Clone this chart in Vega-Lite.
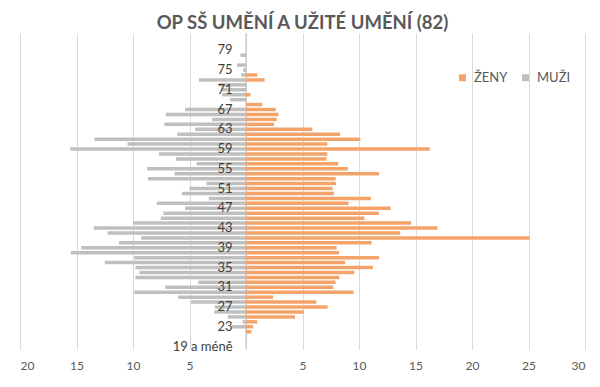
{
  "$schema": "https://vega.github.io/schema/vega-lite/v6.json",
  "width": 565,
  "height": 316,
  "autosize": {"type": "none"},
  "padding": {"left": 20, "top": 33, "right": 15, "bottom": 38},
  "background": "white",
  "config": {"font": "Lato", "view": {"stroke": null}},
  "title": {"text": "OP SŠ UMĚNÍ A UŽITÉ UMĚNÍ (82)", "font": "Lato", "fontSize": 18.5, "fontWeight": "bold", "color": "#595959", "anchor": "middle", "offset": 0},
  "data": {"values": [
    {"vek": "82", "muzi": 0, "zeny": 0},
    {"vek": "81", "muzi": 0, "zeny": 0},
    {"vek": "80", "muzi": 0, "zeny": 0},
    {"vek": "79", "muzi": 0, "zeny": 0},
    {"vek": "78", "muzi": -0.5, "zeny": 0},
    {"vek": "77", "muzi": 0, "zeny": 0},
    {"vek": "76", "muzi": -0.8, "zeny": 0},
    {"vek": "75", "muzi": -0.25, "zeny": 0},
    {"vek": "74", "muzi": -0.42, "zeny": 0.99},
    {"vek": "73", "muzi": -4.16, "zeny": 1.65},
    {"vek": "72", "muzi": -2.4, "zeny": 0},
    {"vek": "71", "muzi": -2.2, "zeny": 0},
    {"vek": "70", "muzi": -2.1, "zeny": 0.4},
    {"vek": "69", "muzi": -1.4, "zeny": 0},
    {"vek": "68", "muzi": 0, "zeny": 1.44},
    {"vek": "67", "muzi": -5.39, "zeny": 2.63},
    {"vek": "66", "muzi": -7.1, "zeny": 2.87},
    {"vek": "65", "muzi": -2.99, "zeny": 2.72},
    {"vek": "64", "muzi": -7.22, "zeny": 2.49},
    {"vek": "63", "muzi": -4.49, "zeny": 5.87},
    {"vek": "62", "muzi": -6.08, "zeny": 8.32},
    {"vek": "61", "muzi": -13.41, "zeny": 10.12},
    {"vek": "60", "muzi": -10.48, "zeny": 7.19},
    {"vek": "59", "muzi": -15.54, "zeny": 16.26},
    {"vek": "58", "muzi": -7.69, "zeny": 7.19},
    {"vek": "57", "muzi": -6.2, "zeny": 7.13},
    {"vek": "56", "muzi": -4.37, "zeny": 8.17},
    {"vek": "55", "muzi": -8.74, "zeny": 9.01},
    {"vek": "54", "muzi": -6.32, "zeny": 11.77},
    {"vek": "53", "muzi": -8.68, "zeny": 7.93},
    {"vek": "52", "muzi": -3.5, "zeny": 7.96},
    {"vek": "51", "muzi": -5.0, "zeny": 7.66},
    {"vek": "50", "muzi": -5.66, "zeny": 7.78},
    {"vek": "49", "muzi": -3.29, "zeny": 11.05},
    {"vek": "48", "muzi": -7.9, "zeny": 9.07},
    {"vek": "47", "muzi": -5.39, "zeny": 12.81},
    {"vek": "46", "muzi": -7.31, "zeny": 11.77},
    {"vek": "45", "muzi": -7.54, "zeny": 10.48},
    {"vek": "44", "muzi": -10.0, "zeny": 14.61},
    {"vek": "43", "muzi": -13.47, "zeny": 16.95},
    {"vek": "42", "muzi": -12.25, "zeny": 13.65},
    {"vek": "41", "muzi": -9.28, "zeny": 25.09},
    {"vek": "40", "muzi": -11.23, "zeny": 11.11},
    {"vek": "39", "muzi": -14.58, "zeny": 8.02},
    {"vek": "38", "muzi": -15.5, "zeny": 8.23},
    {"vek": "37", "muzi": -9.88, "zeny": 11.77},
    {"vek": "36", "muzi": -12.49, "zeny": 8.77},
    {"vek": "35", "muzi": -9.79, "zeny": 11.23},
    {"vek": "34", "muzi": -9.43, "zeny": 9.58},
    {"vek": "33", "muzi": -9.79, "zeny": 8.26},
    {"vek": "32", "muzi": -4.22, "zeny": 7.93},
    {"vek": "31", "muzi": -7.16, "zeny": 7.72},
    {"vek": "30", "muzi": -9.88, "zeny": 9.52},
    {"vek": "29", "muzi": -5.99, "zeny": 2.4},
    {"vek": "28", "muzi": -4.85, "zeny": 6.23},
    {"vek": "27", "muzi": -2.75, "zeny": 7.22},
    {"vek": "26", "muzi": -2.81, "zeny": 5.12},
    {"vek": "25", "muzi": -1.62, "zeny": 4.34},
    {"vek": "24", "muzi": -0.3, "zeny": 0.99},
    {"vek": "23", "muzi": -1.26, "zeny": 0.63},
    {"vek": "22", "muzi": 0, "zeny": 0.48},
    {"vek": "21", "muzi": 0, "zeny": 0},
    {"vek": "20", "muzi": 0, "zeny": 0},
    {"vek": "19 a méně", "muzi": 0, "zeny": 0}
  ]},
  "layer": [
    {
      "data": {"values": [{}]},
      "mark": {"type": "rule", "color": "#BFBFBF", "strokeWidth": 1},
      "encoding": {"x": {"datum": 0, "type": "quantitative"}}
    },
    {
      "transform": [{"fold": ["zeny", "muzi"], "as": ["pohlavi", "hodnota"]}],
      "mark": {"type": "bar"},
      "encoding": {
        "y": {
          "field": "vek", "type": "nominal", "sort": null,
          "scale": {"paddingInner": 0.3, "paddingOuter": 0.15},
          "axis": {
            "orient": "left", "offset": -226, "domain": false, "ticks": false, "grid": false,
            "labelPadding": 14, "labelFontSize": 13, "labelColor": "#404040", "title": null, "zindex": 1,
            "values": ["19 a méně", "23", "27", "31", "35", "39", "43", "47", "51", "55", "59", "63", "67", "71", "75", "79"]
          }
        },
        "x": {
          "field": "hodnota", "type": "quantitative",
          "scale": {"domain": [-20, 30], "nice": false, "zero": false},
          "axis": {
            "values": [-20, -15, -10, -5, 0, 5, 10, 15, 20, 25, 30],
            "labelExpr": "datum.value == 0 ? '' : abs(datum.value)",
            "grid": true, "gridColor": "#D9D9D9", "domain": false, "ticks": false,
            "labelPadding": 11, "labelFontSize": 12, "labelColor": "#595959", "title": null
          }
        },
        "color": {
          "field": "pohlavi", "type": "nominal",
          "scale": {"domain": ["zeny", "muzi"], "range": ["#F4A46A", "#BFBFBF"]},
          "legend": {
            "orient": "none", "legendX": 436, "legendY": 38, "direction": "horizontal", "title": null,
            "symbolType": "square", "symbolSize": 49, "symbolStrokeWidth": 0,
            "labelFontSize": 13, "labelColor": "#595959", "labelOffset": 5, "columnPadding": 11,
            "labelExpr": "datum.label == 'zeny' ? 'ŽENY' : 'MUŽI'"
          }
        }
      }
    }
  ]
}
